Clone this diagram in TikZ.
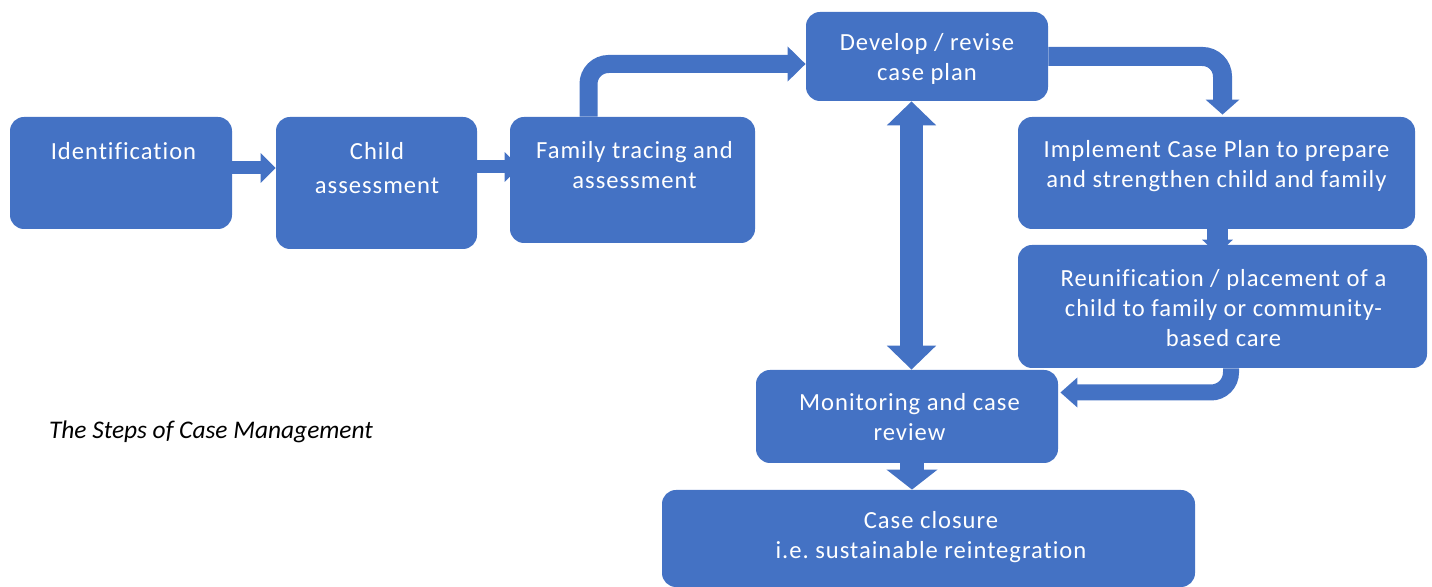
\documentclass[tikz,border=0pt]{standalone}
\usepackage{fontspec}
\setmainfont{Carlito}
\newfontfamily\boxfont[LetterSpace=4, Ligatures={NoCommon}]{Carlito}
\usetikzlibrary{positioning, arrows.meta, backgrounds}
\definecolor{stepblue}{RGB}{68,114,196}
\frenchspacing
\tikzset{
  % Case management boxes
  stepbox/.style   = { fill=stepblue, rounded corners=7pt, inner sep=0pt },
  steptext/.style  = { text=white, align=center, inner sep=0pt,
                       font=\boxfont\fontsize{12.3}{15}\selectfont },
  captiontext/.style = { font=\fontsize{12.7}{15}\selectfont\itshape, inner sep=0pt },
  % Block arrows
  thinflow/.style  = { draw=stepblue, line width=6.5pt,
                       -{Triangle[width=14.5pt, length=7.5pt]} },
  flow/.style      = { draw=stepblue, line width=9pt, rounded corners=10pt,
                       -{Triangle[width=17pt, length=9pt]} },
  bigflow/.style   = { draw=stepblue, line width=12pt,
                       -{Triangle[width=25pt, length=10pt]} },
  twoflow/.style   = { draw=stepblue, line width=11.5pt,
                       {Triangle[width=24pt, length=12pt]}-{Triangle[width=24pt, length=12pt]} }
}

\begin{document}
\begin{tikzpicture}[x=0.5pt, y=-0.5pt]
  \useasboundingbox (0,0) rectangle (1432,587);

  % boxes
  \node[stepbox, minimum width=111pt, minimum height=56pt] (ident) at (121,173) {};
  \node[stepbox, minimum width=100.5pt, minimum height=66pt] (child) at (376.5,183) {};
  \node[stepbox, minimum width=122.5pt, minimum height=63pt] (family) at (632.5,180) {};
  \node[stepbox, minimum width=121pt, minimum height=44.5pt] (develop) at (927,56.5) {};
  \node[stepbox, minimum width=198.5pt, minimum height=56pt] (implement) at (1216.5,173) {};
  \node[stepbox, minimum width=204.5pt, minimum height=61.5pt] (reunif) at (1222.5,306.5) {};
  \node[stepbox, minimum width=151pt, minimum height=46.5pt] (monitor) at (907,416.5) {};
  \node[stepbox, minimum width=266.5pt, minimum height=48.5pt] (closure) at (928.5,538.5) {};

  % texts
  \node[steptext] (identtext) at (123.5,151) {Identification};
  \node[steptext] (childtext) at (377,168) {Child\\[2pt]assessment};
  \node[steptext] (familytext) at (634.5,165.5) {Family tracing and\\assessment};
  \node[steptext] (developtext) at (927,58.5) {Develop / revise\\case plan};
  \node[steptext] (implementtext) at (1216.5,166) {Implement Case Plan to prepare\\and strengthen child and family};
  \node[steptext] (reuniftext) at (1223.5,308.5) {Reunification / placement of a\\child to family or community-\\based care};
  \node[steptext] (monitortext) at (909.5,417) {Monitoring and case\\review};
  \node[steptext] (closuretext) at (931,537.5) {Case closure\\i.e. sustainable reintegration};

  \node[captiontext] (caption) at (211,432) {The Steps of Case Management};

  \begin{scope}[on background layer]
    \draw[thinflow] ([yshift=2.5pt]ident.east) -- ([yshift=7.5pt]child.west);
    \draw[thinflow] ([yshift=8pt]child.east) -- ([xshift=5pt, yshift=6.5pt]family.west);
    \draw[flow] ([xshift=-22pt]family.north) |- ([yshift=-3.75pt]develop.west);
    \draw[flow, line width=9.5pt, -{Triangle[width=16.5pt, length=7.5pt]}]
      (develop.east) -| ([xshift=3pt, yshift=1pt]implement.north);
    \draw[flow, line width=10.5pt, -{Triangle[width=15pt, length=7.5pt]}]
      ([xshift=0.5pt]implement.south) -- ([xshift=-2.5pt, yshift=-5pt]reunif.north);
    \draw[flow, line width=8pt, -{Triangle[width=14.5pt, length=8.5pt]}]
      ([xshift=4.25pt]reunif.south) |- ([xshift=1pt, yshift=12pt]monitor.east);
    \draw[twoflow] ([xshift=-7.75pt]develop.south) -- ([xshift=2.25pt]monitor.north);
    \draw[bigflow] ([xshift=2.5pt]monitor.south) -- ([xshift=-8.25pt]closure.north);
  \end{scope}

\end{tikzpicture}
\end{document}
